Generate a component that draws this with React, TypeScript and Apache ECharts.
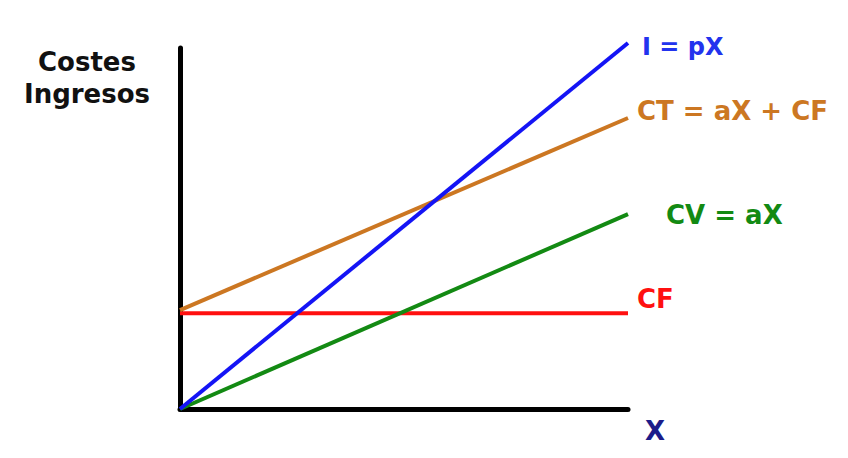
import React, { useEffect, useRef } from "react";
import * as echarts from "echarts";

const xValues = [0, 10];
const ingresos = [0, 101.4];
const costesTotales = [27.4, 80.6];
const costesVariables = [0, 54];
const costesFijos = [26.5, 26.5];

const seriesNames = ["I = pX", "CT = aX + CF", "CV = aX", "CF"];
const yAxisTitle = "Costes\nIngresos";
const xAxisTitle = "X";

const FONT = "DejaVu Sans";

function pairs(ys: number[]) {
  return xValues.map((x, i) => [x, ys[i]]);
}

export default function App() {
  const ref = useRef<HTMLDivElement>(null);
  useEffect(() => {
    if (!ref.current) return;
    const chart = echarts.init(ref.current, null, { renderer: "svg" });
    const mk = (
      name: string,
      data: number[],
      color: string,
      textColor: string,
      offset: number[],
      fontSize = 26
    ) => ({
      type: "line",
      name,
      data: pairs(data),
      clip: false,
      symbol: "none",
      lineStyle: { color, width: 4 },
      z: 3,
      endLabel: {
        show: true,
        formatter: name,
        color: textColor,
        fontFamily: FONT,
        fontWeight: "bold",
        fontSize,
        distance: 0,
        offset,
      },
    });
    chart.setOption({
      animation: false,
      backgroundColor: "#ffffff",
      grid: { left: 180, right: 220, top: 48, bottom: 49 },
      xAxis: {
        type: "value",
        min: 0,
        max: 10,
        axisLine: { show: true, lineStyle: { color: "#000", width: 5 } },
        axisTick: { show: false },
        axisLabel: { show: false },
        splitLine: { show: false },
      },
      yAxis: {
        type: "value",
        min: 0,
        max: 100,
        axisLine: { show: true, lineStyle: { color: "#000", width: 5 } },
        axisTick: { show: false },
        axisLabel: { show: false },
        splitLine: { show: false },
      },
      graphic: [
        {
          type: "text",
          x: 87,
          y: 46,
          style: {
            text: yAxisTitle,
            fontFamily: FONT,
            fontWeight: "bold",
            fontSize: 26,
            lineHeight: 32,
            fill: "#111",
            textAlign: "center",
            textVerticalAlign: "top",
          },
        },
        {
          type: "text",
          x: 645,
          y: 418,
          style: {
            text: xAxisTitle,
            fontFamily: FONT,
            fontWeight: "bold",
            fontSize: 26,
            fill: "#1c1c8a",
            textAlign: "left",
            textVerticalAlign: "top",
          },
        },
      ],
      series: [
        mk(seriesNames[3], costesFijos, "#ff1010", "#ff1010", [9, -14]),
        mk(seriesNames[2], costesVariables, "#138a13", "#138a13", [38, 1]),
        mk(seriesNames[1], costesTotales, "#cc7722", "#cc7722", [9, -7]),
        mk(seriesNames[0], ingresos, "#1414f5", "#2233ee", [14, 4], 24),
      ],
    });
    return () => chart.dispose();
  }, []);
  return (
    <div
      ref={ref}
      style={{ position: "absolute", left: 0, top: 0, width: 848, height: 458, background: "#fff" }}
    />
  );
}
